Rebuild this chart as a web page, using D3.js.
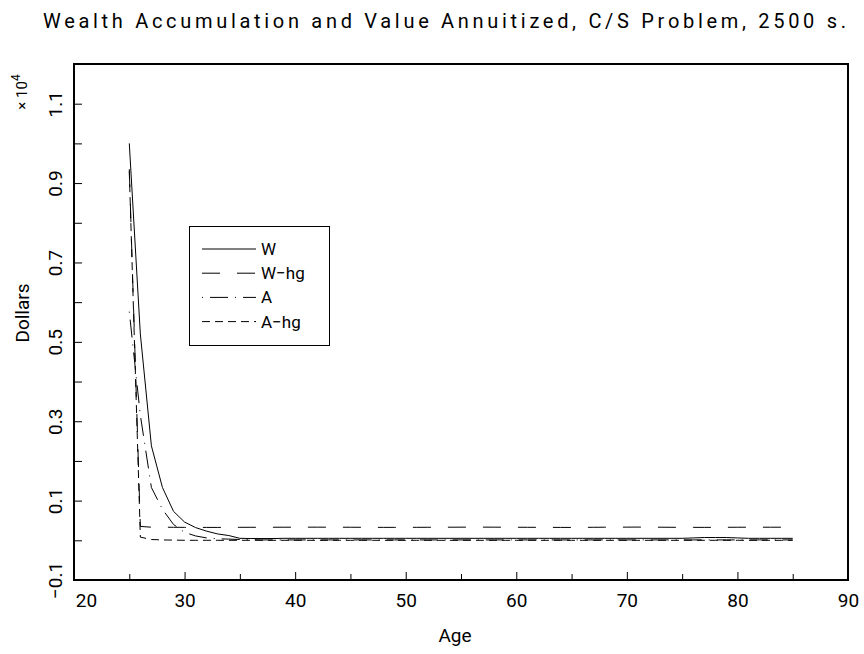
<!DOCTYPE html>
<html>
<head>
<meta charset="utf-8">
<script src="https://cdn.jsdelivr.net/npm/d3@7"></script>
<style>
  body { margin: 0; background: #fff; }
  text { font-family: Roboto, "DejaVu Sans", sans-serif; font-weight: 400; fill: #000; }
</style>
</head>
<body>
<svg id="chart" width="864" height="654"></svg>
<script>
// ages 25..85, one point per year
const ages = d3.range(25, 86);

// values in dollars (axis shows x 10^4)
const wealth = [10000, 5200, 2380, 1330, 730, 460, 320, 230, 160, 120,
  50, 45, 45, 45, 50, 50, 50, 50, 50, 50,
  50, 50, 50, 50, 50, 50, 50, 50, 50, 50,
  50, 50, 50, 50, 50, 50, 50, 50, 50, 50,
  50, 50, 50, 50, 50, 50, 50, 50, 50, 50,
  50, 60, 70, 70, 70, 60, 50, 50, 50, 50, 50];
const wealthHg = [9350, 350, 330, 330, 328, 326, 326, 325, 325, 326,
  327, 328, 328, 329, 330, 330, 331, 331, 330, 330,
  329, 328, 327, 326, 326, 326, 327, 328, 329, 330,
  331, 332, 332, 331, 330, 329, 328, 327, 326, 325,
  325, 326, 328, 330, 331, 332, 333, 332, 330, 328,
  327, 326, 326, 327, 328, 329, 330, 330, 330, 330, 330];
const annuity = [5760, 3150, 1330, 780, 400, 200, 110, 60, 40, 30,
  20, 15, 10, 10, 10, 10, 10, 10, 10, 10,
  10, 10, 10, 10, 10, 10, 10, 10, 10, 10,
  10, 10, 10, 10, 10, 10, 10, 10, 10, 10,
  10, 10, 10, 10, 10, 10, 10, 10, 10, 10,
  10, 10, 10, 10, 10, 10, 10, 10, 10, 10, 10];
const annuityHg = [9300, 80, 20, 10, 5, 0, 0, 0, 0, 0,
  0, 0, 0, 0, 0, 0, 0, 0, 0, 0,
  0, 0, 0, 0, 0, 0, 0, 0, 0, 0,
  0, 0, 0, 0, 0, 0, 0, 0, 0, 0,
  0, 0, 0, 0, 0, 0, 0, 0, 0, 0,
  0, 0, 0, 0, 0, 0, 0, 0, 0, 0, 0];

const seriesNames = ["W", "W\u2212hg", "A", "A\u2212hg"];
const seriesDash = [null, "18,17", "1,7,18,7", "8,5"];

const xTicks = [20, 25, 30, 35, 40, 45, 50, 55, 60, 65, 70, 75, 80, 85, 90];
const yTicks = [-1000, 0, 1000, 2000, 3000, 4000, 5000, 6000, 7000, 8000, 9000, 10000, 11000, 12000];

const svg = d3.select("#chart"),
      margin = {top: 64, right: 16, bottom: 74, left: 74},
      width = 864 - margin.left - margin.right,
      height = 654 - margin.top - margin.bottom;

const x = d3.scaleLinear().domain([20, 90]).range([margin.left, margin.left + width]);
const y = d3.scaleLinear().domain([-1000, 12000]).range([margin.top + height, margin.top]);

// title
svg.append("text")
    .attr("x", 43).attr("y", 28)
    .attr("font-size", 20)
    .attr("textLength", 803).attr("lengthAdjust", "spacing")
    .text("Wealth Accumulation and Value Annuitized, C/S Problem, 2500 s.");

// lines
const line = d3.line().x((d, i) => x(ages[i])).y(d => y(d));
const allSeries = [wealth, wealthHg, annuity, annuityHg];

svg.append("g")
  .selectAll("path")
  .data(allSeries)
  .join("path")
    .attr("d", line)
    .attr("fill", "none")
    .attr("stroke", "#000")
    .attr("stroke-width", 1)
    .attr("stroke-dasharray", (d, i) => seriesDash[i]);

// x axis, ticks point inward
const xAxis = svg.append("g")
    .attr("transform", `translate(0,${margin.top + height})`)
    .call(d3.axisBottom(x).tickValues(xTicks)
      .tickSize(-8).tickPadding(14)
      .tickFormat(d => d % 10 === 0 ? d : ""));
xAxis.select(".domain").remove();
xAxis.selectAll(".tick line")
    .attr("y2", d => d % 10 === 0 ? -8 : -6);
xAxis.selectAll(".tick text")
    .attr("font-size", 19)
    .attr("font-family", null)
    .attr("dx", d => d === 20 ? 12 : 0);

// y axis, rotated labels
const yAxis = svg.append("g")
    .attr("transform", `translate(${margin.left},0)`)
    .call(d3.axisLeft(y).tickValues(yTicks).tickSize(-8));
yAxis.select(".domain").remove();
yAxis.selectAll(".tick text")
    .attr("font-size", 19)
    .attr("font-family", null)
    .attr("transform", "rotate(-90)")
    .attr("x", 0).attr("y", -12).attr("dy", 0)
    .attr("text-anchor", "middle")
    .text(d => {
      const v = d / 10000;
      return Math.round(v * 10) % 2 !== 0 ? (v < 0 ? "\u2212" + d3.format(".1f")(-v) : d3.format(".1f")(v)) : "";
    });

// frame
svg.append("rect")
    .attr("x", margin.left).attr("y", margin.top)
    .attr("width", width).attr("height", height)
    .attr("fill", "none").attr("stroke", "#000").attr("stroke-width", 2);

// axis titles
svg.append("text")
    .attr("x", 455).attr("y", 642)
    .attr("text-anchor", "middle").attr("font-size", 19)
    .text("Age");

svg.append("text")
    .attr("transform", "translate(29,313) rotate(-90)")
    .attr("text-anchor", "middle").attr("font-size", 19)
    .text("Dollars");

const mult = svg.append("text")
    .attr("transform", "translate(27,92) rotate(-90)")
    .attr("text-anchor", "middle").attr("font-size", 15);
mult.append("tspan").text("\u00d7 10");
mult.append("tspan").attr("dy", -7).attr("font-size", 12).text("4");

// legend
const legend = svg.append("g");
legend.append("rect")
    .attr("x", 189.5).attr("y", 226.5)
    .attr("width", 140).attr("height", 119)
    .attr("fill", "#fff").attr("stroke", "#000").attr("stroke-width", 1);

const rows = legend.selectAll(".row")
  .data(seriesNames)
  .join("g")
    .attr("class", "row")
    .attr("transform", (d, i) => `translate(0,${249 + i * 24.2})`);

rows.append("line")
    .attr("x1", 202).attr("x2", 256)
    .attr("stroke", "#000").attr("stroke-width", 1)
    .attr("stroke-dasharray", (d, i) => seriesDash[i]);

rows.append("text")
    .attr("x", 261).attr("dy", "0.35em")
    .attr("font-size", 17)
    .text(d => d);
</script>
</body>
</html>
